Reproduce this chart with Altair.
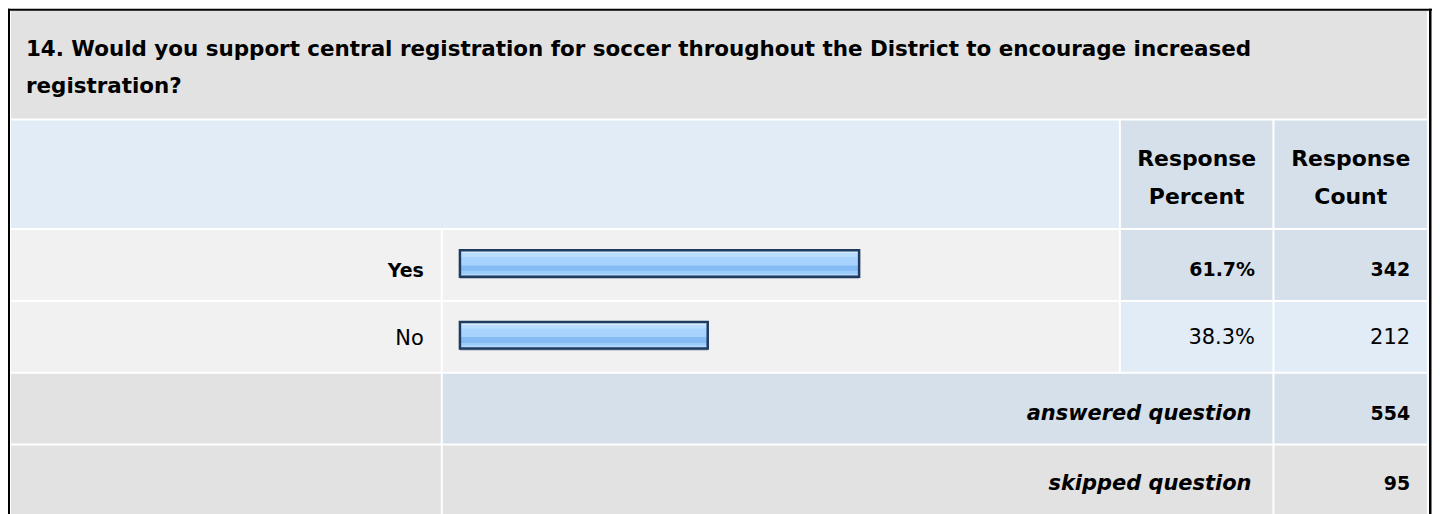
import altair as alt
import pandas as pd

# ---------------- data ----------------
TITLE_LINES = [
    "14. Would you support central registration for soccer throughout the District to encourage increased",
    "registration?",
]
HEADER_PERCENT = ["Response", "Percent"]
HEADER_COUNT = ["Response", "Count"]
ANSWERS = ["Yes", "No"]
PERCENTS = [61.7, 38.3]
COUNTS = [342, 212]
SUMMARY_LABELS = ["answered question", "skipped question"]
SUMMARY_VALUES = [554, 95]

# ---------------- layout (page pixels, converted to chart pixels) ----------------
OX, OY = 8, 8
W, H = 1428, 506
FONT = "DejaVu Sans"

ROWS = {"title": (10, 118), "header": (120, 228), "r0": (230, 300), "r1": (302, 372),
        "ans": (374, 444), "skip": (446, 520)}
COLS = {"label": (11, 442), "bar": (444, 1122), "pct": (1124, 1276), "cnt": (1278, 1431)}

GRAY = "#e2e2e2"
ROWBG = "#f1f1f1"
BLUE_L = "#e2ecf6"
BLUE_D = "#d6e0ea"

cells = []
def cell(x0, x1, y0, y1, color):
    cells.append({"x0": x0 - OX, "x1": x1 - OX, "y0": y0 - OY, "y1": y1 - OY, "color": color})

# title band
cell(11, 1431, *ROWS["title"], GRAY)
# header
cell(COLS["label"][0], COLS["bar"][1], *ROWS["header"], BLUE_L)
cell(*COLS["pct"], *ROWS["header"], BLUE_D)
cell(*COLS["cnt"], *ROWS["header"], BLUE_D)
# answer rows
top = max(PERCENTS)
for i, p in enumerate(PERCENTS):
    r = ROWS[f"r{i}"]
    c = BLUE_D if p == top else BLUE_L
    cell(*COLS["label"], *r, ROWBG)
    cell(*COLS["bar"], *r, ROWBG)
    cell(*COLS["pct"], *r, c)
    cell(*COLS["cnt"], *r, c)
# summary rows
cell(*COLS["label"], *ROWS["ans"], GRAY)
cell(COLS["bar"][0], COLS["pct"][1], *ROWS["ans"], BLUE_D)
cell(*COLS["cnt"], *ROWS["ans"], BLUE_D)
cell(*COLS["label"], *ROWS["skip"], GRAY)
cell(COLS["bar"][0], COLS["pct"][1], *ROWS["skip"], GRAY)
cell(*COLS["cnt"], *ROWS["skip"], GRAY)
# outer black frame
cell(OX, OX + 2, OY, 600, "#000000")
cell(OX, 1436, OY, OY + 2, "#000000")
cell(1433, 1435.5, OY, 600, "#000000")

cells_df = pd.DataFrame(cells)

cells_layer = alt.Chart(cells_df).mark_rect().encode(
    x=alt.X("x0:Q", scale=None, axis=None),
    x2="x1:Q",
    y=alt.Y("y0:Q", scale=None, axis=None),
    y2="y1:Q",
    color=alt.Color("color:N", scale=None, legend=None),
)

# ---------------- bars ----------------
ROW_CENTERS = [265, 337]
BAR_HALF = 13.3
bars_df = pd.DataFrame({
    "answer": ANSWERS,
    "pct": PERCENTS,
    "zero": [0] * len(ANSWERS),
    "y0": [c - 1.5 - BAR_HALF - OY for c in ROW_CENTERS],
    "y1": [c - 1.5 + BAR_HALF - OY for c in ROW_CENTERS],
})
bars_df["sy0"] = bars_df["y0"] + 2
bars_df["sy1"] = bars_df["y1"] + 2

xscale = alt.Scale(domain=[0, 100], range=[461.2 - OX, 1110 - OX])

shadow = alt.Chart(bars_df).mark_rect(fill="#a3adb9").encode(
    x=alt.X("zero:Q", scale=xscale, axis=None),
    x2="pct:Q",
    y=alt.Y("sy0:Q", scale=None, axis=None),
    y2="sy1:Q",
)

grad = alt.Gradient(
    gradient="linear",
    stops=[
        alt.GradientStop(color="#d4eaff", offset=0.0),
        alt.GradientStop(color="#d4eaff", offset=0.1),
        alt.GradientStop(color="#badcff", offset=0.11),
        alt.GradientStop(color="#badcff", offset=0.24),
        alt.GradientStop(color="#a8d3ff", offset=0.25),
        alt.GradientStop(color="#a8d3ff", offset=0.57),
        alt.GradientStop(color="#85bcf3", offset=0.58),
        alt.GradientStop(color="#85bcf3", offset=0.78),
        alt.GradientStop(color="#9dcbfa", offset=0.79),
        alt.GradientStop(color="#9dcbfa", offset=0.88),
        alt.GradientStop(color="#b3d8fd", offset=0.89),
        alt.GradientStop(color="#b3d8fd", offset=1.0),
    ],
    x1=0, x2=0, y1=0, y2=1,
)

bars = alt.Chart(bars_df).mark_rect(fill=grad, stroke="#1f3c60", strokeWidth=2.5).encode(
    x=alt.X("zero:Q", scale=xscale, axis=None),
    x2="pct:Q",
    y=alt.Y("y0:Q", scale=None, axis=None),
    y2="y1:Q",
)

# ---------------- texts ----------------
def txt_layer(rows, size, weight="normal", style="normal", align="right"):
    df = pd.DataFrame(rows)
    return alt.Chart(df).mark_text(
        font=FONT, fontSize=size, fontWeight=weight, fontStyle=style,
        align=align, baseline="alphabetic", color="#000000",
    ).encode(
        x=alt.X("x:Q", scale=None, axis=None),
        y=alt.Y("y:Q", scale=None, axis=None),
        text="t:N",
    )

title_rows = [{"x": 26 - OX, "y": b - OY, "t": t} for t, b in zip(TITLE_LINES, [55, 93])]
header_rows = (
    [{"x": 1200 - OX, "y": b - OY, "t": t} for t, b in zip(HEADER_PERCENT, [165.5, 204])]
    + [{"x": 1354.5 - OX, "y": b - OY, "t": t} for t, b in zip(HEADER_COUNT, [165.5, 204])]
)

ANS_BASE = [277, 345]
bold_rows, reg_rows = [], []
for a, p, n, b in zip(ANSWERS, PERCENTS, COUNTS, ANS_BASE):
    target = bold_rows if p == top else reg_rows
    target.append({"x": 425 - OX, "y": b - OY, "t": a})
    target.append({"x": 1258.5 - OX, "y": b - 1 - OY, "t": f"{p:.1f}%"})
    target.append({"x": 1414 - OX, "y": b - 1 - OY, "t": str(n)})

SUM_BASE = [420, 491]
sum_rows = [{"x": 1255 - OX, "y": b - OY, "t": t} for t, b in zip(SUMMARY_LABELS, SUM_BASE)]
sumval_rows = [{"x": 1414 - OX, "y": b - OY, "t": str(v)} for v, b in zip(SUMMARY_VALUES, SUM_BASE)]

layers = [
    cells_layer,
    shadow,
    bars,
    txt_layer(title_rows, 21.5, "bold", align="left"),
    txt_layer(header_rows, 22, "bold", align="center"),
    txt_layer(bold_rows + sumval_rows, 19, "bold"),
    txt_layer(reg_rows, 21),
    txt_layer(sum_rows, 21, "bold", "italic"),
]

chart = alt.layer(*layers).resolve_scale(x="independent", y="independent").properties(
    width=W, height=H, padding=0, autosize="none", background="#ffffff",
).configure_view(stroke=None)

chart.save("out.html", embed_options={"renderer": "svg", "actions": False})
